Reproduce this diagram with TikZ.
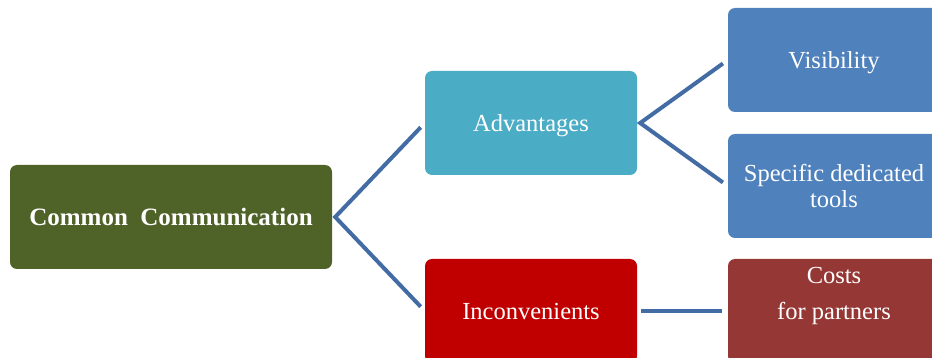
\documentclass[tikz,border=0pt]{standalone}
\usepackage{fontspec}
\setmainfont{Liberation Serif}
\definecolor{olivebox}{RGB}{79,98,40}
\definecolor{cyanbox}{RGB}{75,172,198}
\definecolor{bluebox}{RGB}{79,129,189}
\definecolor{redbox}{RGB}{192,0,0}
\definecolor{brownbox}{RGB}{149,55,53}
\definecolor{linkblue}{RGB}{68,108,164}
\begin{document}
\begin{tikzpicture}[x=1pt,y=-1pt,
  box/.style={rounded corners=7pt,text=white,align=center,minimum width=212pt,minimum height=104pt,inner sep=0pt,font=\fontsize{24.5}{36}\selectfont},
  link/.style={draw=linkblue,line width=4pt,shorten <=6pt,shorten >=6pt}]
  \clip (0,0) rectangle (932,358);
  % Racine
  \node[box,fill=olivebox,minimum width=322pt,text depth=0pt,font=\bfseries\fontsize{25}{36}\selectfont] (Common) at (171,217) {Common\ \ Communication};

  % Avantages
  \node[box,fill=cyanbox,text depth=0pt] (Advantages) at (531,123) {Advantages};
  \node[box,fill=bluebox,text depth=0pt] (Visibility) at (834,60) {Visibility};
  \node[box,fill=bluebox] (Specific) at (834,186) {Specific dedicated\\[-10pt]tools};

  % Inconvenients
  \node[box,fill=redbox,text depth=0pt] (Inconvenients) at (531,311) {Inconvenients};
  \node[box,fill=brownbox] (Costs) at (834,311) {Costs\\for partners\\\mbox{}};

  \draw[link] (Advantages.west) -- ([xshift=3pt]Common.east) -- (Inconvenients.west);
  \draw[link] (Visibility.west) -- ([xshift=3pt]Advantages.east) -- (Specific.west);
  \draw[link,shorten <=4pt] (Inconvenients.east) to (Costs.west);
\end{tikzpicture}
\end{document}
